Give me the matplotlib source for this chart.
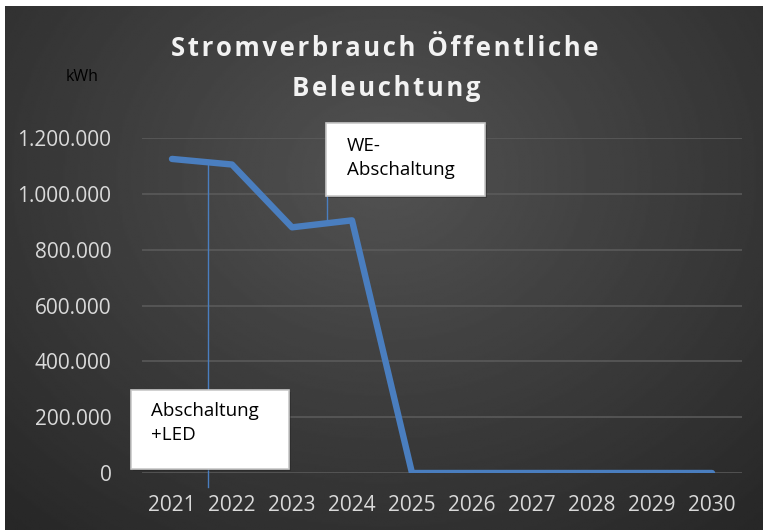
import matplotlib
matplotlib.use("Agg")
import matplotlib.pyplot as plt
from matplotlib.patches import Rectangle
from matplotlib.lines import Line2D
import numpy as np

# data
years = ["2021", "2022", "2023", "2024", "2025", "2026", "2027", "2028", "2029", "2030"]
verbrauch = [1125000, 1105000, 880000, 905000, 0, 0, 0, 0, 0, 0]
y_ticks = [0, 200000, 400000, 600000, 800000, 1000000, 1200000]

W, H = 763, 530
fig = plt.figure(figsize=(W / 100, H / 100), dpi=100)
fig.patch.set_facecolor("white")

# radial gradient background (Excel dark style)
bg = fig.add_axes([5 / W, 0, (W - 5) / W, (H - 6) / H])
gx, gy = np.meshgrid(np.linspace(0, 1, 400), np.linspace(0, 1, 300))
r = np.sqrt(((gx - 0.5) / 0.75) ** 2 + ((gy - 0.32) / 0.9) ** 2)
r = np.clip(r, 0, 1)
shade = 0x52 / 255 * (1 - r) + 0x27 / 255 * r
bg.imshow(shade, cmap="gray", vmin=0, vmax=1, aspect="auto", extent=[0, 1, 0, 1],
          origin="upper", interpolation="bilinear")
bg.set_axis_off()


def px(x, y):
    # pixel position (from top-left) -> figure fraction
    return x / W, 1 - y / H


fam = ["Open Sans", "DejaVu Sans"]

ax = fig.add_axes([142 / W, (H - 473) / H, 600 / W, 335 / H])
ax.set_facecolor("none")
xs = np.arange(len(years))
ax.plot(xs, verbrauch, color="#4a7ebf", linewidth=4.6, solid_capstyle="round",
        solid_joinstyle="round", zorder=3)
ax.set_xlim(-0.5, len(years) - 0.5)
ax.set_ylim(0, 1200000)
ax.set_yticks(y_ticks)
ax.set_yticklabels([f"{v:,}".replace(",", ".") for v in y_ticks])
ax.set_xticks(xs)
ax.set_xticklabels(years)
ax.grid(axis="y", color="#5c5c5c", linewidth=1.1)
ax.set_axisbelow(True)
for s in ax.spines.values():
    s.set_visible(False)
ax.tick_params(length=0, colors="#d9d9d9", labelsize=15)
ax.tick_params(axis="y", pad=22)
ax.tick_params(axis="x", pad=16)
for lab in ax.get_xticklabels() + ax.get_yticklabels():
    lab.set_family(fam)

# title with letter spacing
sp = "\u200a"
t1 = sp.join("Stromverbrauch Öffentliche")
t2 = sp.join("Beleuchtung")
fig.text(*px(385, 48), t1, ha="center", va="center", fontsize=18.5, fontweight="bold",
         color="#f2f2f2", family=fam)
fig.text(*px(386, 88), t2, ha="center", va="center", fontsize=18.5, fontweight="bold",
         color="#f2f2f2", family=fam)
fig.text(*px(82, 77), "kWh", ha="center", va="center", fontsize=11.5, color="black",
         family=fam)

# callouts
leader = "#4a7ebf"
fig.add_artist(Line2D([208 / W, 208 / W], [1 - 160 / H, 1 - 487 / H], color=leader, lw=1.0, zorder=2))
fig.add_artist(Line2D([327 / W, 327 / W], [1 - 158 / H, 1 - 220 / H], color=leader, lw=1.0, zorder=2))

for (x0, y0, x1, y1, txt, tx, ty) in [
    (326, 123, 485, 196, "WE-\nAbschaltung", 347, 137),
    (131, 390, 289, 469, "Abschaltung\n+LED", 151, 402),
]:
    fig.add_artist(Rectangle((x0 / W + 0.002, 1 - y1 / H - 0.003), (x1 - x0) / W, (y1 - y0) / H,
                             facecolor="#1e1e1e", edgecolor="none", alpha=0.35, zorder=4))
    fig.add_artist(Rectangle((x0 / W, 1 - y1 / H), (x1 - x0) / W, (y1 - y0) / H,
                             facecolor="white", edgecolor="#c8c8c8", lw=1.2, zorder=5))
    fig.text(tx / W, 1 - ty / H, txt, ha="left", va="top", fontsize=13.5, color="black",
             linespacing=1.45, family=fam, zorder=6)

fig.savefig("out.png", dpi=100)
